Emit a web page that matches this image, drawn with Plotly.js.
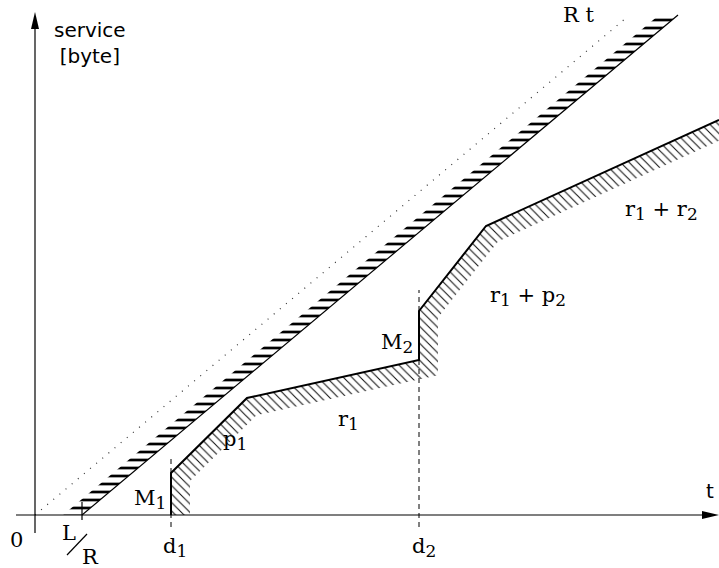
<!DOCTYPE html>
<html>
<head>
<meta charset="utf-8">
<script src="https://cdn.plot.ly/plotly-3.0.1.min.js"></script>
<style>html,body{margin:0;padding:0;background:#fff}</style>
</head>
<body>
<div id="chart" style="width:719px;height:568px"></div>
<script>
// Service curves: time on x, service in bytes on y (arbitrary units)
const rateX = [0, 591];                 // reference line R t
const rateY = [0, 497];
const betaX = [47, 643];                // rate-latency curve, latency L/R
const betaY = [0, 500];
const curveX = [136, 136, 212, 384, 384, 451, 684];   // guaranteed service curve
const curveY = [0, 42, 117, 155, 204, 289, 395];
const deadlineX = [136, 384];           // d1, d2
const deadlineTop = [60, 225];
const latencyX = 47;                    // L/R

const SERIF = 'DejaVu Serif, serif';
const SANS = 'DejaVu Sans, sans-serif';

// polygon offset to the right-hand side of a polyline (units are 1:1 with pixels)
function offsetPolyline(xs, ys, w) {
  const n = xs.length, normals = [];
  for (let i = 0; i < n - 1; i++) {
    const dx = xs[i + 1] - xs[i], dy = ys[i + 1] - ys[i], L = Math.hypot(dx, dy);
    normals.push([dy / L, -dx / L]);
  }
  const ox = [], oy = [];
  for (let i = 0; i < n; i++) {
    let nx, ny;
    if (i === 0) [nx, ny] = normals[0];
    else if (i === n - 1) [nx, ny] = normals[n - 2];
    else {
      const a = normals[i - 1], b = normals[i];
      const k = 1 + a[0] * b[0] + a[1] * b[1];
      nx = (a[0] + b[0]) / k; ny = (a[1] + b[1]) / k;
    }
    ox.push(xs[i] + nx * w); oy.push(ys[i] + ny * w);
  }
  return [ox, oy];
}

// hatch band below the service curve, extended past the right edge
const n = curveX.length;
const ddx = curveX[n - 1] - curveX[n - 2], ddy = curveY[n - 1] - curveY[n - 2];
const dl = Math.hypot(ddx, ddy);
const bandX = curveX.concat([curveX[n - 1] + ddx / dl * 40]);
const bandY = curveY.concat([curveY[n - 1] + ddy / dl * 40]);
const [offX, offY] = offsetPolyline(bandX, bandY, 19);
const hatchX = bandX.concat(offX.slice().reverse());
const hatchY = bandY.concat(offY.slice().reverse());

// hatch band on the left of the rate-latency line
const betaBandX = [betaX[0], betaX[1], betaX[1] - 19, betaX[0] - 19];
const betaBandY = [betaY[0], betaY[1], betaY[1], betaY[0]];

const traces = [
  {x: hatchX, y: hatchY, mode: 'lines', fill: 'toself', line: {width: 0},
   fillcolor: 'rgba(0,0,0,0)',
   fillpattern: {shape: '\\', size: 6, solidity: 0.18, fgcolor: '#111', bgcolor: 'rgba(255,255,255,0)'}},
  {x: betaBandX, y: betaBandY, mode: 'lines', fill: 'toself', line: {width: 0},
   fillcolor: 'rgba(0,0,0,0)',
   fillpattern: {shape: '-', size: 8, solidity: 0.34, fgcolor: '#000', bgcolor: 'rgba(255,255,255,0)'}},
  {x: rateX, y: rateY, mode: 'lines', line: {color: '#333', width: 1.2, dash: '1px,7px'}},
  {x: betaX, y: betaY, mode: 'lines', line: {color: '#000', width: 1.2}},
  {x: curveX, y: curveY, mode: 'lines', line: {color: '#000', width: 2}}
];

const shapes = [];
// deadlines
deadlineX.forEach((d, i) => shapes.push({type: 'line', xref: 'x', yref: 'y', x0: d, x1: d,
  y0: -12, y1: deadlineTop[i], line: {color: '#000', width: 1, dash: '5px,4px'}}));
// axes
shapes.push({type: 'line', xref: 'x', yref: 'y', x0: 0, x1: 0, y0: -18, y1: 490, line: {color: '#000', width: 1.2}});
shapes.push({type: 'line', xref: 'x', yref: 'y', x0: -19, x1: 672, y0: 0, y1: 0, line: {color: '#000', width: 1.2}});
shapes.push({type: 'path', xref: 'x', yref: 'y', path: 'M -4,486 L 0,503 L 4,486 Z', fillcolor: '#000', line: {width: 0}});
shapes.push({type: 'path', xref: 'x', yref: 'y', path: 'M 667,-4 L 684,0 L 667,4 Z', fillcolor: '#000', line: {width: 0}});
// L/R tick and slash
shapes.push({type: 'line', xref: 'x', yref: 'y', x0: latencyX, x1: latencyX, y0: -5, y1: 13, line: {color: '#000', width: 1.2}});
shapes.push({type: 'line', xref: 'x', yref: 'y', x0: 32, x1: 52, y0: -40, y1: -19, line: {color: '#000', width: 1.2}});

const sub = s => '<sub><span style="font-size:17px">' + s + '</span></sub>';
function lab(text, x, y, font, size) {
  return {text, x, y, xref: 'x', yref: 'y', showarrow: false, xanchor: 'center', yanchor: 'middle',
    font: {family: font || SERIF, size: size || 21, color: '#000'}};
}
const annotations = [
  lab('service<br>[byte]', 55, 472, SANS, 20),
  lab('R t', 543, 500),
  lab('t', 675, 24, SANS, 20),
  lab('0', -19, -25),
  lab('L', 34, -18),
  lab('R', 55, -42),
  lab('d' + sub('1'), 140, -32),
  lab('d' + sub('2'), 389, -32),
  lab('M' + sub('1'), 115, 16),
  lab('M' + sub('2'), 362, 172),
  lab('p' + sub('1'), 200, 75),
  lab('r' + sub('1'), 313, 95),
  lab('r' + sub('1') + ' + p' + sub('2'), 493, 219),
  lab('r' + sub('1') + ' + r' + sub('2'), 626, 305)
];

const layout = {
  width: 719, height: 568, autosize: false,
  margin: {l: 0, r: 0, t: 0, b: 0},
  paper_bgcolor: '#fff', plot_bgcolor: '#fff',
  showlegend: false,
  xaxis: {range: [-35, 684], visible: false, fixedrange: true},
  yaxis: {range: [-53, 515], visible: false, fixedrange: true},
  shapes, annotations
};
Plotly.newPlot('chart', traces, layout, {staticPlot: true, displayModeBar: false});
</script>
</body>
</html>
